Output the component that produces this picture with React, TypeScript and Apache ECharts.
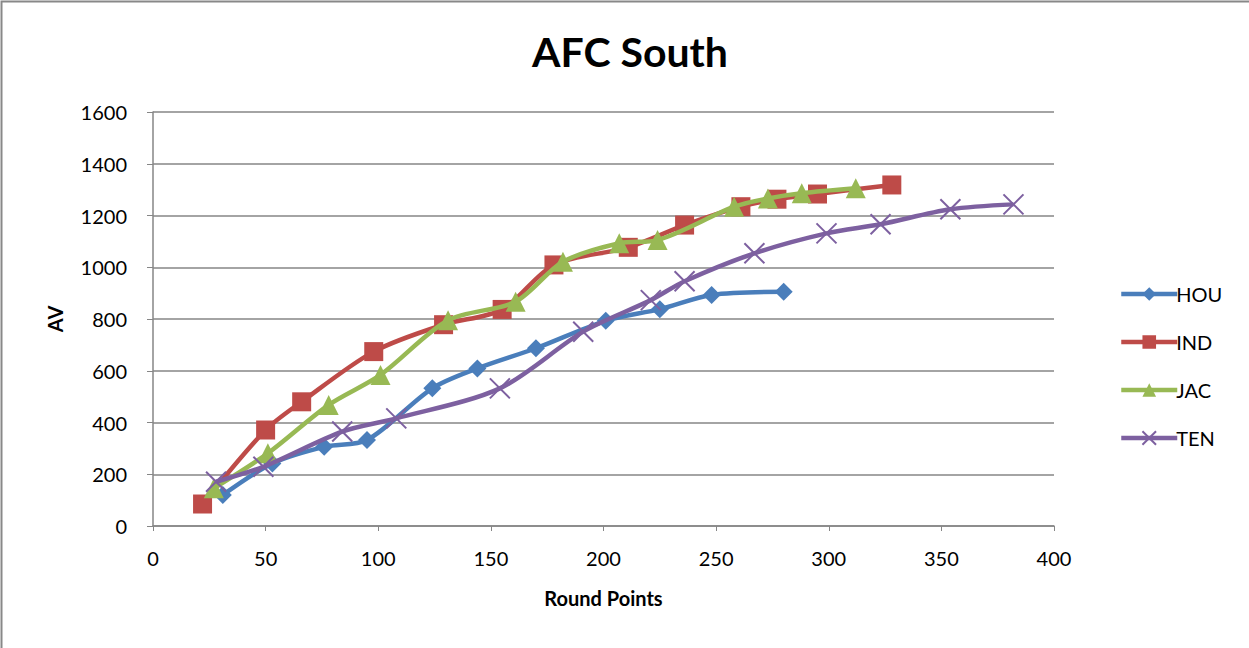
import React, { useEffect, useRef } from "react";
import * as echarts from "echarts";

const seriesNames = ["HOU", "IND", "JAC", "TEN"];
const colors = ["#4A7EBB", "#BE4B48", "#98B954", "#7D60A0"];

const houX = [31, 53, 76, 95, 124, 144, 170, 201, 225, 248, 280];
const houY = [120, 242, 306, 332, 532, 609, 687, 793, 838, 893, 905];

const indX = [22, 50, 66, 98, 129, 155, 178, 211, 236, 261, 277, 295, 328];
const indY = [85, 371, 480, 674, 778, 837, 1009, 1077, 1163, 1234, 1263, 1283, 1318];

const jacX = [27, 51, 78, 101, 131, 161, 182, 207, 224, 258, 273, 288, 312];
const jacY = [146, 281, 468, 584, 795, 867, 1021, 1093, 1105, 1234, 1266, 1286, 1305];

const tenX = [28, 49, 84, 108, 154, 191, 221, 236, 267, 299, 323, 354, 382];
const tenY = [171, 229, 365, 416, 532, 751, 873, 946, 1054, 1131, 1166, 1224, 1243];

const xTicks = [0, 50, 100, 150, 200, 250, 300, 350, 400];
const yTicks = [0, 200, 400, 600, 800, 1000, 1200, 1400, 1600];

const pairs = (xs: number[], ys: number[]) => xs.map((x, i) => [x, ys[i]]);

const FONT = "Lato, 'Open Sans', sans-serif";

export default function App() {
  const ref = useRef<HTMLDivElement>(null);
  useEffect(() => {
    if (!ref.current) return;
    const chart = echarts.init(ref.current, undefined, { renderer: "svg" });
    const data = [pairs(houX, houY), pairs(indX, indY), pairs(jacX, jacY), pairs(tenX, tenY)];
    const symbols = ["diamond", "rect", "triangle", "path://M0,0L10,10M10,0L0,10"];
    const sizes = [18, 19, 20, 20];
    chart.setOption({
      animation: false,
      backgroundColor: "#fff",
      textStyle: { fontFamily: FONT },
      title: {
        text: "AFC South",
        left: 625,
        textAlign: "center",
        top: 26,
        textStyle: { fontSize: 41, fontWeight: "bold", color: "#000", fontFamily: FONT },
      },
      graphic: [
        {
          type: "rect",
          shape: { x: 1.5, y: 1.5, width: 1300, height: 700 },
          style: { fill: "none", stroke: "#888", lineWidth: 2 },
          silent: true,
        },
      ],
      legend: {
        orient: "vertical",
        left: 1114,
        top: 279,
        itemGap: 28,
        itemWidth: 56,
        itemHeight: 17,
        lineStyle: { width: 4.5 },
        textStyle: { fontSize: 20, color: "#000", fontFamily: FONT, padding: [0, 0, 0, -6] },
        data: seriesNames,
      },
      grid: { left: 153, right: 195, top: 112, bottom: 122 },
      xAxis: {
        type: "value",
        min: 0,
        max: 400,
        interval: 50,
        name: "Round Points",
        nameLocation: "middle",
        nameGap: 62,
        nameTextStyle: { fontSize: 20, fontWeight: "bold", color: "#000", fontFamily: FONT },
        axisLine: { show: true, lineStyle: { color: "#868686", width: 1.5 } },
        axisTick: { show: true, length: 5, lineStyle: { color: "#868686" } },
        axisLabel: {
          fontSize: 20,
          color: "#000",
          margin: 22,
          fontFamily: FONT,
          formatter: (v: number) => (xTicks.includes(v) ? String(v) : ""),
        },
        splitLine: { show: false },
      },
      yAxis: {
        type: "value",
        min: 0,
        max: 1600,
        interval: 200,
        name: "AV",
        nameLocation: "middle",
        nameGap: 88,
        nameRotate: 90,
        nameTextStyle: { fontSize: 20, fontWeight: "bold", color: "#000", fontFamily: FONT },
        axisLine: { show: true, lineStyle: { color: "#868686", width: 1.5 } },
        axisTick: { show: true, length: 6, lineStyle: { color: "#868686" } },
        axisLabel: {
          fontSize: 20,
          color: "#000",
          margin: 26,
          fontFamily: FONT,
          formatter: (v: number) => (yTicks.includes(v) ? String(v) : ""),
        },
        splitLine: { show: true, lineStyle: { color: "#868686", width: 1.5 } },
      },
      series: seriesNames.map((name, i) => ({
        name,
        type: "line",
        smooth: 0.3,
        data: data[i],
        symbol: symbols[i],
        symbolSize: sizes[i],
        lineStyle: { color: colors[i], width: 4.5 },
        itemStyle:
          i === 3
            ? { color: "rgba(0,0,0,0)", borderColor: colors[i], borderWidth: 2 }
            : { color: colors[i], borderColor: colors[i], borderWidth: 0 },
        z: 2 + i,
      })),
    });
    return () => chart.dispose();
  }, []);
  return (
    <div
      ref={ref}
      style={{ position: "fixed", left: 0, top: 0, width: 1249, height: 648 }}
    />
  );
}
